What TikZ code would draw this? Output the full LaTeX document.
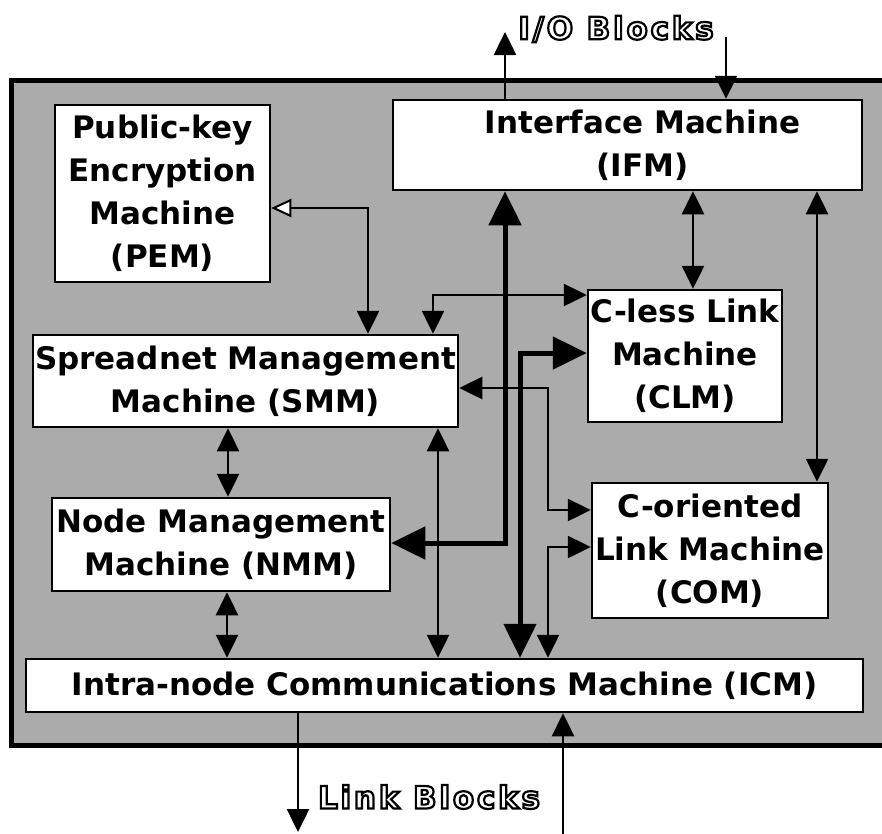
\documentclass[tikz,border=0pt]{standalone}
\usepackage{fontspec}
\setmainfont{DejaVu Sans}
\usetikzlibrary{arrows.meta}
\newcommand{\outltext}[1]{\special{pdf:literal direct 1 Tr 2.2 w}#1\special{pdf:literal direct 0 Tr}}
\begin{document}
\begin{tikzpicture}[x=1pt,y=-1pt,
  box/.style={draw=black, line width=2.5pt, fill=white, align=center, inner sep=0pt,
    font=\bfseries\fontsize{31}{43}\selectfont},
  conn/.style={line width=2.5pt, {Triangle[width=22pt,length=23pt]}-{Triangle[width=22pt,length=23pt]}},
  oneway/.style={line width=2.5pt, -{Triangle[width=22pt,length=23pt]}},
  bigconn/.style={line width=5pt, {Triangle[width=32pt,length=34pt]}-{Triangle[width=32pt,length=34pt]}},
  pemconn/.style={line width=2.5pt, {Triangle[open,fill=white,width=18pt,length=20pt,line width=2pt]}-{Triangle[width=22pt,length=23pt]}},
  outl/.style={font=\bfseries\fontsize{31}{36}\selectfont\addfontfeature{LetterSpace=9}, inner sep=0pt}
]
\useasboundingbox (0,0) rectangle (882,833);
\clip (0,0) rectangle (882,833);
% outer frame
\fill[black!33] (11,80) rectangle (900,745);
\draw[line width=5pt] (11,80) rectangle (900,745);

% machines
\node[box, minimum width=469pt, minimum height=90pt] (ifm) at (627.5,145)
  {\hspace*{30pt}Interface Machine\\\hspace*{30pt}(IFM)};
\node[box, minimum width=215pt, minimum height=177pt] (pem) at (162.5,193.5)
  {Public-key\\Encryption\\Machine\\(PEM)};
\node[box, minimum width=194pt, minimum height=132pt] (clm) at (685,356)
  {C-less Link\\Machine\\(CLM)};
\node[box, minimum width=236pt, minimum height=135pt] (com) at (710,550.5)
  {C-oriented\\Link Machine\\(COM)};
\node[box, minimum width=425pt, minimum height=92pt] (smm) at (245.5,381)
  {Spreadnet Management\\Machine (SMM)};
\node[box, minimum width=338pt, minimum height=93pt] (nmm) at (221,544.5)
  {Node Management\\Machine (NMM)};
\node[box, minimum width=837pt, minimum height=53pt] (icm) at (444.5,685.5)
  {Intra-node Communications Machine (ICM)};

% outlined labels
\node[outl] (io) at (616,29) {\outltext{I/O Blocks}};
\node[outl] (lb) at (429,797) {\outltext{Link Blocks}};

% helper coordinates
\coordinate (pa) at (368,208);
\coordinate (ba) at (505,543);
\coordinate (cx) at (693,0);
\coordinate (dx) at (817,0);
\coordinate (ea) at (433,295);
\coordinate (fa) at (520,353);
\coordinate (ga) at (548,388);
\coordinate (gb) at (548,510);
\coordinate (ha) at (548,547);
\coordinate (ix) at (438,0);
\coordinate (jx) at (228,0);
\coordinate (kx) at (227,0);
\coordinate (ioup) at (505,32);
\coordinate (iodn) at (726,37);
\coordinate (lbdn) at (298,832);
\coordinate (lbup) at (563,840);

% connectors
\draw[pemconn] (pem.east |- pa) -| (pa |- smm.north);
\draw[conn] (ifm.south -| cx) -- (clm.north -| cx);
\draw[conn] (ifm.south -| dx) -- (com.north -| dx);
\draw[conn] (ea |- smm.north) |- (clm.west |- ea);
\draw[bigconn] (ifm.south -| ba) |- (nmm.east |- ba);
\draw[bigconn] (clm.west |- fa) -| (fa |- icm.north);
\draw[conn] (smm.east |- ga) -- (ga) -- (gb) -- (com.west |- gb);
\draw[conn] (ha |- icm.north) |- (com.west |- ha);
\draw[conn] (ix |- smm.south) -- (ix |- icm.north);
\draw[conn] (jx |- smm.south) -- (jx |- nmm.north);
\draw[conn] (kx |- nmm.south) -- (kx |- icm.north);
\draw[oneway] (ioup |- ifm.north) -- (ioup);
\draw[oneway] (iodn) -- (iodn |- ifm.north);
\draw[oneway] (lbdn |- icm.south) -- (lbdn);
\draw[oneway] (lbup) -- (lbup |- icm.south);
\end{tikzpicture}
\end{document}
